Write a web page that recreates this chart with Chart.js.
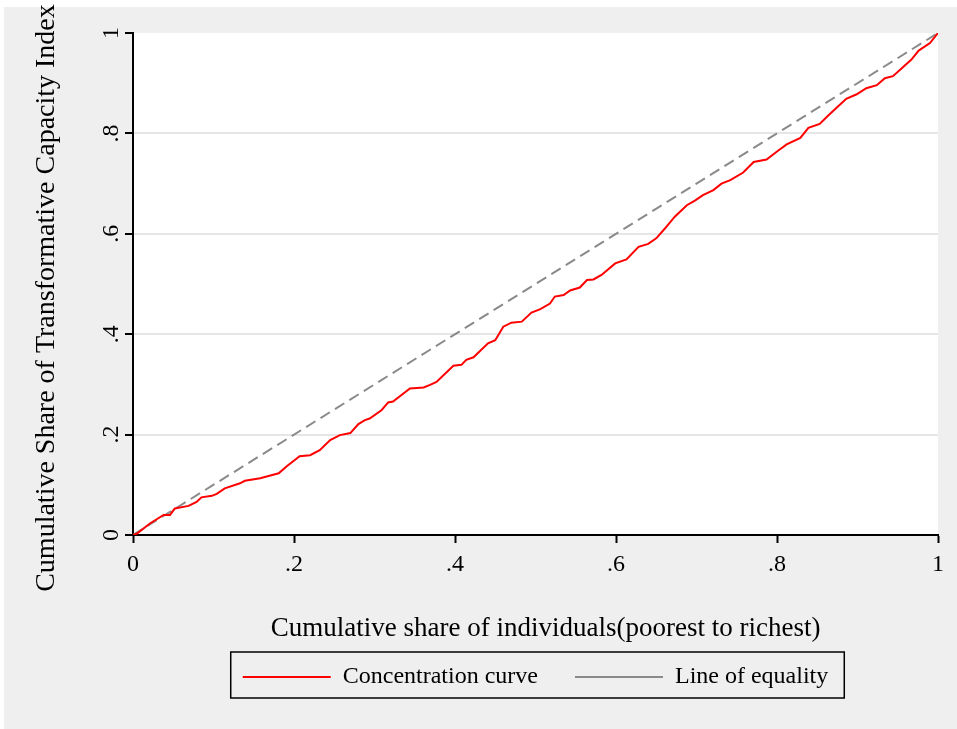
<!DOCTYPE html>
<html lang="en">
<head>
    <meta charset="UTF-8">
    <title>Concentration curve</title>
    <script src="https://cdn.jsdelivr.net/npm/chart.js"></script>
    <style>
        body {
            margin: 0;
            background: #ffffff;
        }

        .container {
            width: 957px;
            height: 729px;
        }
    </style>
</head>
<body>
    <div class="container">
        <canvas id="graficoCurva"></canvas>
    </div>

    <script>
        // cumulative share of individuals (x) and of the index (y)
        const shareIndividuals = [0, 0.005, 0.021, 0.038, 0.046, 0.052, 0.069, 0.079, 0.085, 0.098,
            0.104, 0.114, 0.133, 0.139, 0.158, 0.181, 0.191, 0.207, 0.220, 0.232,
            0.245, 0.257, 0.270, 0.280, 0.288, 0.294, 0.309, 0.317, 0.323, 0.344,
            0.361, 0.369, 0.377, 0.398, 0.408, 0.414, 0.423, 0.441, 0.450, 0.460,
            0.470, 0.483, 0.495, 0.506, 0.518, 0.524, 0.535, 0.543, 0.555, 0.564,
            0.572, 0.582, 0.599, 0.613, 0.628, 0.640, 0.650, 0.661, 0.673, 0.688,
            0.698, 0.708, 0.721, 0.731, 0.742, 0.758, 0.771, 0.787, 0.800, 0.812,
            0.829, 0.839, 0.853, 0.864, 0.874, 0.886, 0.899, 0.911, 0.924, 0.934,
            0.944, 0.955, 0.967, 0.976, 0.990, 1];
        const shareIndex = [0, 0.003, 0.023, 0.040, 0.040, 0.053, 0.058, 0.066, 0.075, 0.078,
            0.082, 0.093, 0.103, 0.108, 0.113, 0.123, 0.137, 0.157, 0.159, 0.169,
            0.189, 0.199, 0.203, 0.221, 0.229, 0.232, 0.249, 0.264, 0.266, 0.292,
            0.294, 0.299, 0.305, 0.337, 0.339, 0.349, 0.354, 0.382, 0.388, 0.415,
            0.423, 0.425, 0.443, 0.450, 0.461, 0.475, 0.478, 0.487, 0.493, 0.508,
            0.509, 0.518, 0.541, 0.549, 0.574, 0.580, 0.591, 0.611, 0.634, 0.657,
            0.666, 0.677, 0.687, 0.700, 0.707, 0.722, 0.743, 0.748, 0.764, 0.778,
            0.791, 0.811, 0.819, 0.836, 0.851, 0.869, 0.878, 0.890, 0.896, 0.910,
            0.914, 0.930, 0.947, 0.965, 0.980, 1];
        const equalityX = [0, 1];
        const equalityY = [0, 1];

        const serif = '"Liberation Serif", "Times New Roman", serif';

        function rotulo(v) {
            if (v === 0) return '0';
            if (v === 1) return '1';
            return String(+v.toFixed(1)).replace('0.', '.');
        }

        const fundo = {
            id: 'fundo',
            beforeDraw(chart) {
                const ctx = chart.ctx;
                const a = chart.chartArea;
                ctx.save();
                ctx.fillStyle = '#efefef';
                ctx.fillRect(4, 7, chart.width - 4, chart.height - 7);
                ctx.fillStyle = '#ffffff';
                ctx.fillRect(a.left, a.top, a.right - a.left, a.bottom - a.top);
                ctx.restore();
            },
            beforeDatasetsDraw(chart) {
                // white box behind the legend, drawn before the legend itself
            },
            afterDraw(chart) {
                // frame round the legend, as Stata draws it
                const hb = chart.legend.legendHitBoxes;
                if (!hb || !hb.length) return;
                const ctx = chart.ctx;
                const left = hb[0].left - 12;
                const right = hb[hb.length - 1].left + hb[hb.length - 1].width + 16;
                const top = hb[0].top - 13;
                const bottom = hb[0].top + 33;
                ctx.save();
                ctx.strokeStyle = '#000000';
                ctx.lineWidth = 1.5;
                ctx.strokeRect(left, top, right - left, bottom - top);
                ctx.restore();
            }
        };

        new Chart(document.getElementById('graficoCurva').getContext('2d'), {
            type: 'line',
            data: {
                datasets: [
                    {
                        label: 'Concentration curve',
                        data: shareIndividuals.map((x, i) => ({ x: x, y: shareIndex[i] })),
                        borderColor: '#ff0000',
                        backgroundColor: '#ff0000',
                        borderWidth: 2,
                        pointRadius: 0,
                        tension: 0,
                        fill: false
                    },
                    {
                        label: 'Line of equality',
                        data: equalityX.map((x, i) => ({ x: x, y: equalityY[i] })),
                        borderColor: '#8a8a8a',
                        backgroundColor: '#8a8a8a',
                        borderWidth: 2,
                        borderDash: [11, 6],
                        pointRadius: 0,
                        tension: 0,
                        fill: false
                    }
                ]
            },
            options: {
                responsive: true,
                maintainAspectRatio: false,
                animation: false,
                layout: {
                    padding: { top: 33, right: 19, bottom: 30, left: 0 }
                },
                plugins: {
                    tooltip: { enabled: false },
                    legend: {
                        display: true,
                        position: 'bottom',
                        fullSize: false,
                        labels: {
                            usePointStyle: true,
                            pointStyle: 'line',
                            pointStyleWidth: 88,
                            boxWidth: 88,
                            padding: 37,
                            color: '#000000',
                            font: { family: serif, size: 24 }
                        }
                    }
                },
                scales: {
                    x: {
                        type: 'linear',
                        min: 0,
                        max: 1,
                        afterFit: (scale) => { scale.height = 93; },
                        ticks: {
                            stepSize: 0.2,
                            padding: 7,
                            color: '#000000',
                            font: { family: serif, size: 24 },
                            maxRotation: 0,
                            callback: (v) => rotulo(v)
                        },
                        grid: {
                            drawOnChartArea: false,
                            tickLength: 8,
                            tickColor: '#000000',
                            tickWidth: 2
                        },
                        border: { color: '#000000', width: 2 },
                        title: {
                            display: true,
                            text: '   Cumulative share of individuals(poorest to richest)',
                            color: '#000000',
                            font: { family: serif, size: 27 },
                            padding: { top: 0, bottom: -17 }
                        }
                    },
                    y: {
                        min: 0,
                        max: 1,
                        afterFit: (scale) => { scale.width = 133; },
                        ticks: {
                            stepSize: 0.2,
                            padding: 4,
                            minRotation: 90,
                            maxRotation: 90,
                            crossAlign: 'center',
                            color: '#000000',
                            font: { family: serif, size: 24 },
                            callback: (v) => rotulo(v)
                        },
                        grid: {
                            color: (c) => (c.tick.value === 0 || c.tick.value === 1) ? 'rgba(0,0,0,0)' : '#e6e6e6',
                            lineWidth: 2,
                            tickLength: 8,
                            tickColor: '#000000',
                            tickWidth: 2
                        },
                        border: { color: '#000000', width: 2 },
                        title: {
                            display: true,
                            text: 'Cumulative Share of Transformative Capacity Index    ',
                            color: '#000000',
                            font: { family: serif, size: 28 },
                            padding: { top: 30, bottom: 0 }
                        }
                    }
                }
            },
            plugins: [fundo]
        });
    </script>
</body>
</html>
